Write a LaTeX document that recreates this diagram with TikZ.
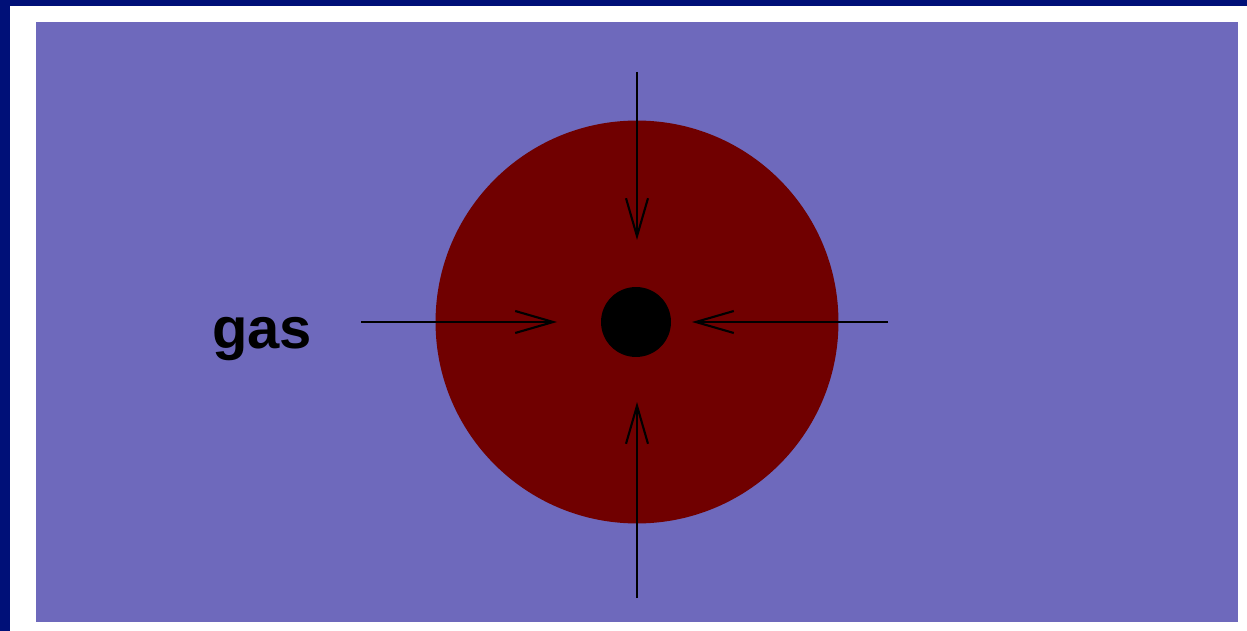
\documentclass[tikz,border=0pt]{standalone}
\usepackage{fontspec}
\setmainfont{Liberation Sans}
\usetikzlibrary{arrows.meta}

\begin{document}
\begin{tikzpicture}[x=0.02cm, y=-0.02cm]

% Define colors
\definecolor{frame}{RGB}{0, 16, 120}
\definecolor{gasfill}{RGB}{110, 105, 188}
\definecolor{shellfill}{RGB}{112, 0, 0}

\tikzset{
  inflow/.style={line width=1.2pt, -{Straight Barb[length=0.76cm, width=0.44cm, line width=1.2pt]}}
}

% Draw the background
\fill[frame] (0,0) rectangle (1247,631);
\fill[white] (10,6) rectangle (1247,631);
\fill[gasfill] (36,22) rectangle (1238,622);

% Draw the shell and the core
\node[circle, fill=shellfill, minimum size=8.06cm, inner sep=0pt] (shell) at (637,322) {};
\node[circle, fill=black, minimum size=1.4cm, inner sep=0pt] (core) at (636,322) {};

\node[font=\bfseries\fontsize{33}{36}\selectfont] (gas) at (262,339) {gas};

% Arrow end points
\coordinate (topstart) at (637,72);
\coordinate (topend) at (637,240);
\coordinate (botstart) at (637,598);
\coordinate (botend) at (637,402);
\coordinate (leftstart) at (361,322);
\coordinate (leftend) at (557,322);
\coordinate (rightstart) at (888,322);
\coordinate (rightend) at (692,322);

% Draw the arrows
\draw[inflow] (topstart) -- (topend);
\draw[inflow] (botstart) -- (botend);
\draw[inflow] (leftstart) -- (leftend);
\draw[inflow] (rightstart) -- (rightend);

\end{tikzpicture}
\end{document}
